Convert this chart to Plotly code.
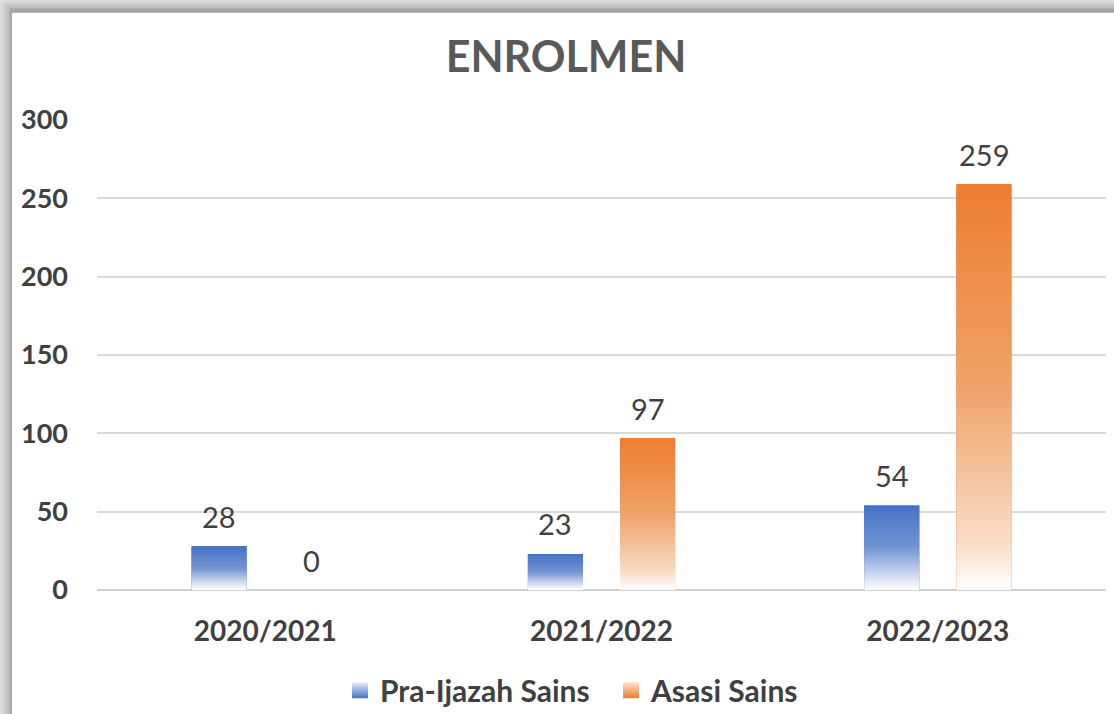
import plotly.graph_objects as go

categories = ["2020/2021", "2021/2022", "2022/2023"]
series_names = ["Pra-Ijazah Sains", "Asasi Sains"]
pra_ijazah = [28, 23, 54]
asasi = [0, 97, 259]
y_ticks = [0, 50, 100, 150, 200, 250, 300]

colors = ["#4472C4", "#ED7D31"]
light = ["#e8eef8", "#fbe3d2"]
gradients = [
    [[0, "#ffffff"], [0.12, "#dfe7f6"], [0.5, "#7294d3"], [1, "#4472C4"]],
    [[0, "#ffffff"], [0.12, "#f9dcc6"], [0.5, "#f0a268"], [1, "#ED7D31"]],
]
offsets = [-0.219, 0.055]
bar_w = 0.164
FONT = "Lato"
TXT = "#404040"

fig = go.Figure()
xs = list(range(len(categories)))

for s, (name, vals) in enumerate(zip(series_names, [pra_ijazah, asasi])):
    fig.add_trace(go.Bar(
        x=xs, y=vals, name=name, offset=offsets[s], width=bar_w,
        marker=dict(color=colors[s], line=dict(width=0)),
        showlegend=False, hoverinfo="name+y",
    ))
    for i, v in enumerate(vals):
        if v <= 0:
            continue
        x0 = i + offsets[s]
        x1 = x0 + bar_w
        fig.add_trace(go.Scatter(
            x=[x0, x0, x1, x1, x0], y=[0, v, v, 0, 0],
            mode="lines", line=dict(width=0), fill="toself",
            fillgradient=dict(type="vertical", colorscale=gradients[s], start=0, stop=v),
            showlegend=False, hoverinfo="skip",
        ))
    for i, v in enumerate(vals):
        fig.add_annotation(
            x=i + offsets[s] + bar_w / 2, y=v, text=str(v), showarrow=False,
            yanchor="middle", yshift=30,
            font=dict(family=FONT, size=29, color=TXT),
        )

# legend entries (square swatches with a vertical gradient)
for s, name in enumerate(series_names):
    fig.add_trace(go.Scatter(
        x=[None], y=[None], mode="markers", name=name, showlegend=True,
        marker=dict(symbol="square", size=16, color=light[s],
                    gradient=dict(type="vertical", color=colors[s])),
        hoverinfo="skip",
    ))

# plot area spans px x 97..1106, y 120..590
def px_x(p):
    return (p - 97) / 1009.0

def px_y(p):
    return (590 - p) / 470.0

shapes = []
bands = [("#dcdcdc", 0), ("#d0d0d0", 3), ("#c2c2c2", 6), ("#b0b0b0", 9), ("#a4a4a4", 11)]
for col, d in bands:
    shapes.append(dict(type="rect", xref="paper", yref="paper", layer="below",
                       x0=px_x(d), x1=px_x(1120), y0=px_y(720), y1=px_y(d),
                       fillcolor=col, line=dict(width=0)))
shapes.append(dict(type="rect", xref="paper", yref="paper", layer="below",
                   x0=px_x(12), x1=px_x(1120), y0=px_y(720), y1=px_y(14),
                   fillcolor="#ffffff", line=dict(width=0)))

fig.update_layout(
    width=1114, height=714,
    margin=dict(l=97, r=8, t=119, b=124, autoexpand=False),
    paper_bgcolor="#e6e6e6", plot_bgcolor="rgba(0,0,0,0)",
    shapes=shapes,
    barmode="overlay",
    title=dict(text="ENROLMEN", x=px_x(566), xref="paper", xanchor="center",
               y=1 - 57 / 714, yanchor="middle",
               font=dict(family=FONT, size=43, color="#595959", weight="bold")),
    xaxis=dict(range=[-0.5, 2.5], tickmode="array", tickvals=xs, ticktext=categories,
               showgrid=False, zeroline=False, showline=False, ticks="",
               ticklabelstandoff=22, automargin=False,
               tickfont=dict(family=FONT, size=28, color=TXT, weight="bold")),
    yaxis=dict(range=[0, 300.64], tickmode="array", tickvals=y_ticks,
               showgrid=True, gridcolor="#d9d9d9", gridwidth=1.5,
               zeroline=True, zerolinecolor="#d0d0d0", zerolinewidth=2,
               showline=False, ticks="", ticklabelstandoff=28, automargin=False,
               tickfont=dict(family=FONT, size=27, color=TXT, weight="bold")),
    legend=dict(orientation="h", x=px_x(340), xanchor="left", y=px_y(690), yanchor="middle",
                font=dict(family=FONT, size=30, color=TXT, weight="bold"),
                itemwidth=30, entrywidth=226, entrywidthmode="pixels",
                bgcolor="rgba(0,0,0,0)", traceorder="normal"),
)

fig.write_html("out.html", config={"displayModeBar": False},
               post_script="document.body.style.margin='0';")
